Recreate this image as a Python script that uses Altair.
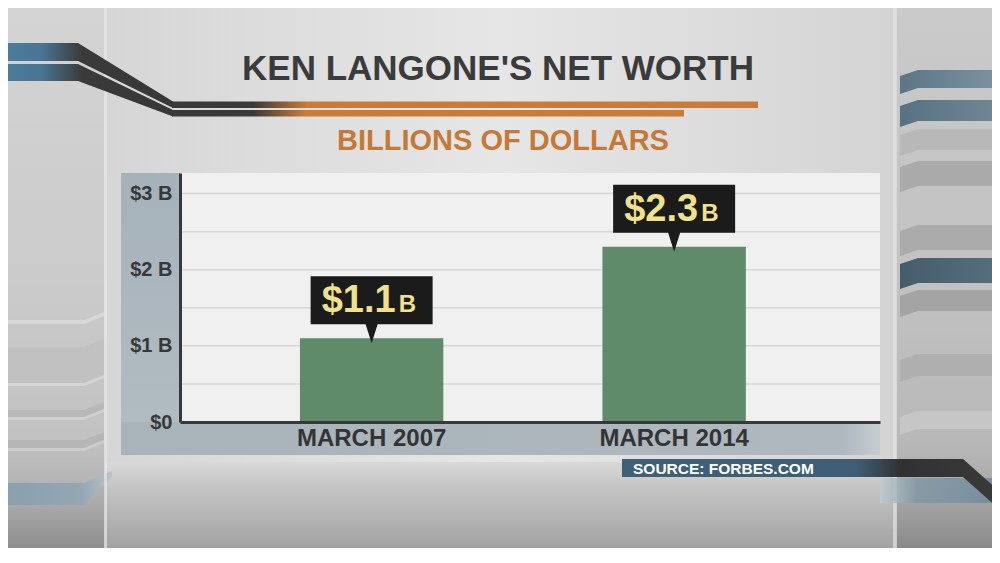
import altair as alt
import pandas as pd

# ---------------- data ----------------
categories = ["MARCH 2007", "MARCH 2014"]
net_worth = [1.1, 2.3]
y_ticks = [0, 1, 2, 3]
y_tick_labels = ["$0", "$1 B", "$2 B", "$3 B"]
grid_values = [0.5, 1, 1.5, 2, 2.5, 3]
title_text = "KEN LANGONE'S NET WORTH"
subtitle_text = "BILLIONS OF DOLLARS"
source_text = "SOURCE: FORBES.COM"
unit_text = "B"

df = pd.DataFrame({"period": categories, "value": net_worth})
grid_df = pd.DataFrame({"value": grid_values})
dummy = pd.DataFrame({"k": [0]})

# ---------------- layout (page coordinates) ----------------
X0, Y0 = 180, 173          # plot origin on page
W, H = 700, 249            # plot size
TOTAL_W, TOTAL_H = 984, 540
PAD = {"left": X0 - 8, "top": Y0 - 8,
       "right": TOTAL_W - (X0 - 8) - W, "bottom": TOTAL_H - (Y0 - 8) - H}
FONT = "Liberation Sans"


def px(x):
    return x - X0


def py(y):
    return y - Y0


def grad(stops, vertical=False):
    return alt.LinearGradient(
        gradient="linear",
        stops=[alt.GradientStop(offset=o, color=c) for o, c in stops],
        x1=0, y1=0, x2=0 if vertical else 1, y2=1 if vertical else 0)


def rect(x1, y1, x2, y2, fill, opacity=1.0):
    return alt.Chart(dummy).mark_rect(fill=fill, opacity=opacity, strokeWidth=0).encode(
        x=alt.value(px(x1)), x2=alt.value(px(x2)),
        y=alt.value(py(y1)), y2=alt.value(py(y2)))


def poly(path, fill, opacity=1.0):
    # custom symbol path drawn at page origin, size=4 -> 1 unit == 1 px
    return alt.Chart(dummy).mark_point(
        shape=path, size=4, filled=True, fill=fill, opacity=opacity, strokeWidth=0
    ).encode(x=alt.value(px(0)), y=alt.value(py(0)))


def text(s, x, y, size, color, align="center", baseline="alphabetic", weight="bold"):
    return alt.Chart(dummy).mark_text(
        text=s, font=FONT, fontSize=size, fontWeight=weight, color=color,
        align=align, baseline=baseline
    ).encode(x=alt.value(px(x)), y=alt.value(py(y)))


layers = []

# ---------------- background ----------------
layers.append(rect(8, 8, 992, 548, grad([(0, "#c8c8c8"), (0.1, "#d6d6d6"), (0.5, "#e6e6e6"),
                                          (0.9, "#d4d4d4"), (1, "#c2c2c2")])))
# floor
layers.append(rect(8, 462, 992, 548, grad([(0, "#d9d9d9"), (0.3, "#c4c4c4"), (1, "#a2a2a2")],
                                          vertical=True)))

# left panel
layers.append(rect(8, 8, 105, 548, grad([(0, "#d4d4d4"), (0.5, "#cbcbcb"), (0.8, "#c2c2c2"),
                                         (0.9, "#b0b0b0"), (1, "#8e8e8e")], vertical=True)))
for y1, y2, c in [(320, 324, "#d8d8d8"), (347, 383, "#c1c1c1"), (383, 386, "#d4d4d4"),
                  (410, 417, "#b8b8b8"), (417, 420, "#d0d0d0"), (440, 448, "#b6b6b6"),
                  (448, 451, "#cdcdcd")]:
    layers.append(poly(f"M8,{y1} L84,{y1} L104,{y1 - 8} L104,{y2 - 8} L84,{y2} L8,{y2} Z", c))
layers.append(poly("M8,483 L84,483 L112,471 L112,477 L84,505 L8,505 Z",
                   grad([(0, "#8aa0ae"), (0.7, "#93a7b3"), (1, "#b9c3c9")])))
layers.append(rect(104, 8, 107, 548, "#e8e8e8", 0.7))

# right panel
layers.append(rect(896, 8, 992, 548, grad([(0, "#cacaca"), (0.5, "#c2c2c2"), (0.8, "#b8b8b8"),
                                           (0.9, "#a8a8a8"), (1, "#8a8a8a")], vertical=True)))
for y1, y2, c in [(70, 88, grad([(0, "#5c7686"), (1, "#7a909e")])),
                  (100, 121, grad([(0, "#587283"), (1, "#6e8594")])),
                  (129, 150, "#b8b8b8"), (161, 186, "#aaaaaa"), (225, 250, "#ababab"),
                  (258, 283, grad([(0, "#455c6a"), (1, "#566d7b")])),
                  (290, 311, "#a4a4a4"), (354, 376, "#afafaf"), (411, 429, "#c6c6c6")]:
    layers.append(poly(f"M900,{y1 + 6} L918,{y1} L992,{y1} L992,{y2} L918,{y2} L900,{y2 + 6} Z", c))
layers.append(rect(893, 8, 897, 548, "#e2e2e2", 0.7))

# ---------------- title decoration ----------------
layers.append(poly("M8,43 L78,43 L173,101.5 L173,108 L78,61 L8,61 Z",
                   grad([(0, "#4c7c9b"), (0.2, "#4a7594"), (0.45, "#3a3a3a"), (1, "#383838")])))
layers.append(poly("M8,64 L78,64 L173,110 L173,116.5 L78,81 L8,81 Z",
                   grad([(0, "#4c7c9b"), (0.2, "#4a7594"), (0.45, "#3a3a3a"), (1, "#383838")])))
layers.append(rect(172, 101.5, 758, 108, grad([(0, "#393939"), (0.14, "#3b3a39"),
                                                (0.23, "#c97b37"), (1, "#c97b37")])))
layers.append(rect(172, 110, 684, 116.5, grad([(0, "#393939"), (0.16, "#3b3a39"),
                                               (0.26, "#c97b37"), (1, "#c97b37")])))

# ---------------- chart frame ----------------
layers.append(rect(121, 173, 180, 455, grad([(0, "#a6b2ba"), (1, "#b2bcc3")], vertical=True)))
layers.append(rect(121, 422, 880, 455, grad([(0, "#a9b3ba"), (0.95, "#aeb8be"), (1, "#c6cdd1")])))
layers.append(rect(180, 173, 880, 422, "#f0f0f0"))

# source bar
layers.append(poly("M880,478 L1000,478 L1000,503 L880,503 Z",
                   grad([(0, "#c4cbcf"), (0.3, "#7f98a6"), (1, "#6a8797")]), 0.8))
layers.append(poly("M622,459 L963,459 L1000,492 L1000,510 L963,477 L622,477 Z",
                   grad([(0, "#3e6079"), (0.62, "#3e5e75"), (0.74, "#313131"), (1, "#3a3a3a")])))

# ---------------- encodings ----------------
label_expr = " : ".join(f"datum.value == {v} ? '{l}'" for v, l in zip(y_ticks, y_tick_labels)) + " : ''"

x_enc = alt.X("period:N", sort=categories,
              scale=alt.Scale(paddingInner=0.526, paddingOuter=0.42, align=0.472),
              axis=alt.Axis(title=None, labelFont=FONT, labelFontSize=24, labelFontWeight="bold",
                            labelColor="#343434", ticks=False, labelPadding=4, labelAngle=0,
                            domainColor="#383838", domainWidth=3, grid=False, zindex=2))
y_enc = alt.Y("value:Q", scale=alt.Scale(domain=[0, 3.27], nice=False, zero=True),
              axis=alt.Axis(title=None, values=y_ticks, labelExpr=label_expr, labelFont=FONT,
                            labelFontSize=20, labelFontWeight="bold", labelColor="#383838",
                            ticks=False, labelPadding=8, domainColor="#383838", domainWidth=3,
                            grid=False, zindex=2))

grid = alt.Chart(grid_df).mark_rule(color="#d6d6d6", strokeWidth=1.5).encode(
    y=y_enc, x=alt.value(0), x2=alt.value(W))

bars = alt.Chart(df).mark_bar(color="#5f8b6b").encode(x=x_enc, y=y_enc)

callout = alt.Chart(df).mark_point(
    shape="M-61,-62 L61,-62 L61,-14 L6,-14 L0,5 L-6,-14 L-61,-14 Z",
    size=4, filled=True, fill="#1b1b1b", opacity=1, strokeWidth=0
).encode(x=x_enc, y=y_enc)

num_text = alt.Chart(df).mark_text(
    font=FONT, fontSize=38, fontWeight="bold", color="#efe18e",
    align="right", baseline="alphabetic", dx=24, dy=-26
).encode(x=x_enc, y=y_enc, text=alt.Text("value:Q", format="$.1f"))

unit = alt.Chart(df).mark_text(
    text=unit_text, font=FONT, fontSize=24, fontWeight="bold", color="#efe18e",
    align="left", baseline="alphabetic", dx=27, dy=-26
).encode(x=x_enc, y=y_enc)

layers += [grid, bars, callout, num_text, unit]

# ---------------- titles ----------------
layers.append(text(title_text, 498, 80, 35, "#3b3b3b"))
layers.append(text(subtitle_text, 503, 150, 29, "#c47a36"))
layers.append(text(source_text, 633, 473.5, 15.5, "#ffffff", align="left"))

chart = alt.layer(*layers).properties(
    width=W, height=H,
    autosize=alt.AutoSizeParams(type="none"),
    padding=PAD,
).configure_view(stroke=None).configure(background="#d0d0d0")

chart.save("out.html", embed_options={"renderer": "svg", "actions": False})
